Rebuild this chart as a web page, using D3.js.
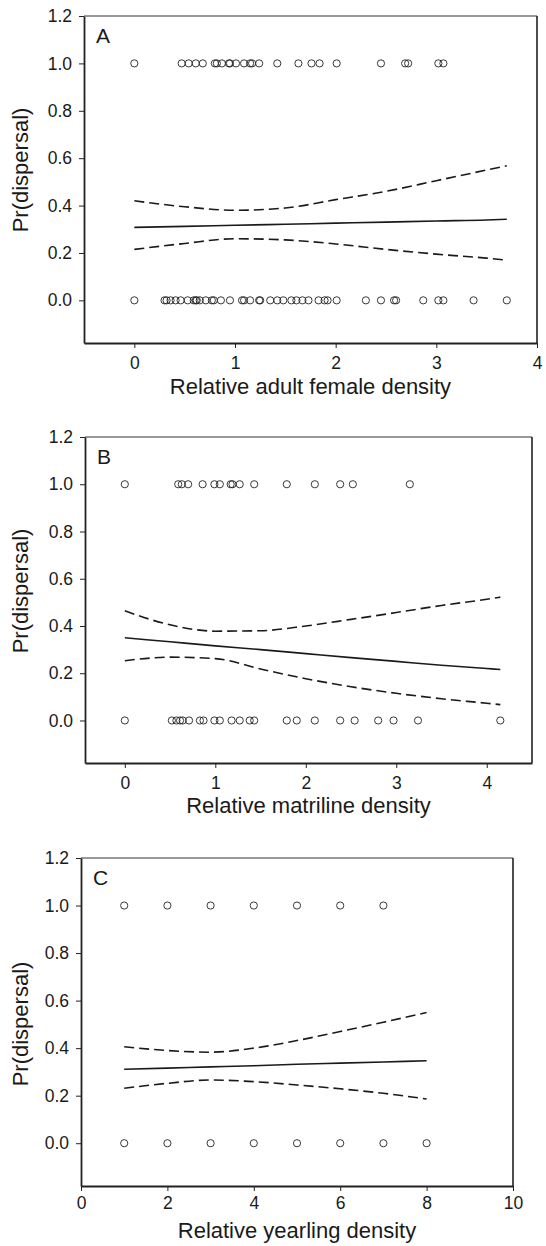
<!DOCTYPE html>
<html>
<head>
<meta charset="utf-8">
<script src="https://cdn.jsdelivr.net/npm/d3@7/dist/d3.min.js"></script>
<style>
  html, body { margin: 0; padding: 0; background: #fff; }
  svg { display: block; }
  text { font-family: "Liberation Sans", Arial, Helvetica, sans-serif; fill: #1a1a1a; }
</style>
</head>
<body>
<svg id="chart" width="546" height="1246"></svg>
<script>
// ---------- DATA ----------
const yTicks = [0, 0.2, 0.4, 0.6, 0.8, 1.0, 1.2];

// Panel A: relative adult female density
const aTicks = [0, 1, 2, 3, 4];
const aDispersed = [0, 0.47, 0.54, 0.61, 0.68, 0.80, 0.82, 0.87, 0.94, 0.95, 1.01, 1.09, 1.15, 1.17, 1.24, 1.42, 1.63, 1.76, 1.84, 2.01, 2.45, 2.69, 2.72, 3.02, 3.07];
const aStayed = [0, 0.30, 0.32, 0.36, 0.41, 0.46, 0.53, 0.59, 0.61, 0.62, 0.65, 0.71, 0.77, 0.79, 0.86, 0.95, 1.07, 1.09, 1.15, 1.24, 1.25, 1.35, 1.42, 1.48, 1.56, 1.61, 1.67, 1.73, 1.83, 1.89, 1.92, 2.01, 2.30, 2.45, 2.58, 2.60, 2.87, 3.02, 3.07, 3.37, 3.70];
const aCurveX = [0, 0.5, 1, 1.5, 2, 2.5, 3, 3.5, 3.7];
const aFit    = [0.308, 0.312, 0.317, 0.321, 0.326, 0.330, 0.335, 0.339, 0.342];
const aLower  = [0.215, 0.240, 0.260, 0.255, 0.238, 0.215, 0.195, 0.178, 0.170];
const aUpper  = [0.420, 0.395, 0.380, 0.390, 0.425, 0.460, 0.505, 0.550, 0.568];

// Panel B: relative matriline density
const bTicks = [0, 1, 2, 3, 4];
const bDispersed = [0, 0.59, 0.63, 0.70, 0.86, 0.99, 1.05, 1.17, 1.19, 1.27, 1.43, 1.79, 2.10, 2.38, 2.52, 3.15];
const bStayed = [0, 0.52, 0.57, 0.61, 0.64, 0.71, 0.83, 0.87, 0.99, 1.05, 1.18, 1.27, 1.38, 1.43, 1.79, 1.90, 2.10, 2.38, 2.54, 2.80, 2.97, 3.24, 4.15];
const bCurveX = [0, 0.5, 1, 1.5, 2, 2.5, 3, 3.5, 4, 4.15];
const bFit    = [0.350, 0.333, 0.316, 0.300, 0.283, 0.266, 0.250, 0.234, 0.220, 0.216];
const bLower  = [0.253, 0.268, 0.262, 0.218, 0.177, 0.143, 0.115, 0.092, 0.073, 0.067];
const bUpper  = [0.464, 0.405, 0.378, 0.380, 0.400, 0.428, 0.457, 0.487, 0.513, 0.522];

// Panel C: relative yearling density
const cTicks = [0, 2, 4, 6, 8, 10];
const cDispersed = [1, 2, 3, 4, 5, 6, 7];
const cStayed = [1, 2, 3, 4, 5, 6, 7, 8];
const cCurveX = [1, 2, 3, 4, 5, 6, 7, 8];
const cFit    = [0.311, 0.316, 0.321, 0.326, 0.332, 0.337, 0.342, 0.347];
const cLower  = [0.231, 0.252, 0.266, 0.259, 0.245, 0.229, 0.210, 0.186];
const cUpper  = [0.406, 0.390, 0.383, 0.400, 0.432, 0.470, 0.509, 0.550];

const yTitle = "Pr(dispersal)";

// ---------- LAYOUT ----------
const panels = [
  { label: "A", left: 84, right: 537, top: 16, bottom: 343, xDomain: [-0.5, 4], xTicks: aTicks,
    xTitle: "Relative adult female density", ones: aDispersed, zeros: aStayed,
    cx: aCurveX, fit: aFit, lo: aLower, up: aUpper, yTitleY: 170, titleBase: 394, pad: 9 },
  { label: "B", left: 85, right: 532, top: 437, bottom: 763, xDomain: [-0.44, 4.5], xTicks: bTicks,
    xTitle: "Relative matriline density", ones: bDispersed, zeros: bStayed,
    cx: bCurveX, fit: bFit, lo: bLower, up: bUpper, yTitleY: 591, titleBase: 813, pad: 9 },
  { label: "C", left: 81, right: 513, top: 858, bottom: 1186, xDomain: [0, 10], xTicks: cTicks,
    xTitle: "Relative yearling density", ones: cDispersed, zeros: cStayed,
    cx: cCurveX, fit: cFit, lo: cLower, up: cUpper, yTitleY: 1024, titleBase: 1238, pad: 6 }
];

const svg = d3.select("#chart");

panels.forEach(p => {
  const x = d3.scaleLinear().domain(p.xDomain).range([p.left, p.right]);
  const y = d3.scaleLinear().domain([-0.18, 1.2]).range([p.bottom, p.top]);
  const g = svg.append("g");

  // frame top/right
  g.append("line").attr("x1", p.left).attr("x2", p.right).attr("y1", p.top).attr("y2", p.top)
    .attr("stroke", "#333").attr("stroke-width", 1.2);
  g.append("line").attr("x1", p.right).attr("x2", p.right).attr("y1", p.top).attr("y2", p.bottom)
    .attr("stroke", "#222").attr("stroke-width", 1.6);

  // y axis
  const ya = g.append("g").attr("transform", `translate(${p.left},0)`)
    .call(d3.axisLeft(y).tickValues(yTicks).tickFormat(d3.format(".1f"))
      .tickSize(5).tickSizeOuter(0).tickPadding(7));
  // x axis
  const xa = g.append("g").attr("transform", `translate(0,${p.bottom})`)
    .call(d3.axisBottom(x).tickValues(p.xTicks).tickFormat(d3.format("d"))
      .tickSize(5).tickSizeOuter(0).tickPadding(p.pad));
  [ya, xa].forEach(a => {
    a.select(".domain").attr("stroke", "#222").attr("stroke-width", 1.8);
    a.selectAll(".tick line").attr("stroke", "#222").attr("stroke-width", 1);
    a.selectAll(".tick text").attr("font-size", 17.5).attr("fill", "#1a1a1a")
      .style("font-family", '"Liberation Sans", Arial, sans-serif');
  });

  // panel letter
  g.append("text").attr("x", p.left + 12).attr("y", p.top + 27)
    .attr("font-size", 21).text(p.label);

  // axis titles
  g.append("text").attr("x", (p.left + p.right) / 2).attr("y", p.titleBase)
    .attr("text-anchor", "middle").attr("font-size", 22).text(p.xTitle);
  g.append("text").attr("transform", `translate(28,${p.yTitleY}) rotate(-90)`)
    .attr("text-anchor", "middle").attr("font-size", 22).text(yTitle);

  // curves
  const mk = vals => d3.line().x((d, i) => x(p.cx[i])).y(d => y(d)).curve(d3.curveMonotoneX)(vals);
  g.append("path").attr("d", mk(p.fit)).attr("fill", "none").attr("stroke", "#1a1a1a").attr("stroke-width", 1.6);
  [p.lo, p.up].forEach(v => {
    g.append("path").attr("d", mk(v)).attr("fill", "none").attr("stroke", "#1a1a1a")
      .attr("stroke-width", 1.6).attr("stroke-dasharray", "10,5");
  });

  // points
  g.selectAll("circle.one").data(p.ones).join("circle").attr("class", "one")
    .attr("cx", d => x(d)).attr("cy", y(1)).attr("r", 3.6)
    .attr("fill", "none").attr("stroke", "#222").attr("stroke-width", 0.9);
  g.selectAll("circle.zero").data(p.zeros).join("circle").attr("class", "zero")
    .attr("cx", d => x(d)).attr("cy", y(0)).attr("r", 3.6)
    .attr("fill", "none").attr("stroke", "#222").attr("stroke-width", 0.9);
});
</script>
</body>
</html>
